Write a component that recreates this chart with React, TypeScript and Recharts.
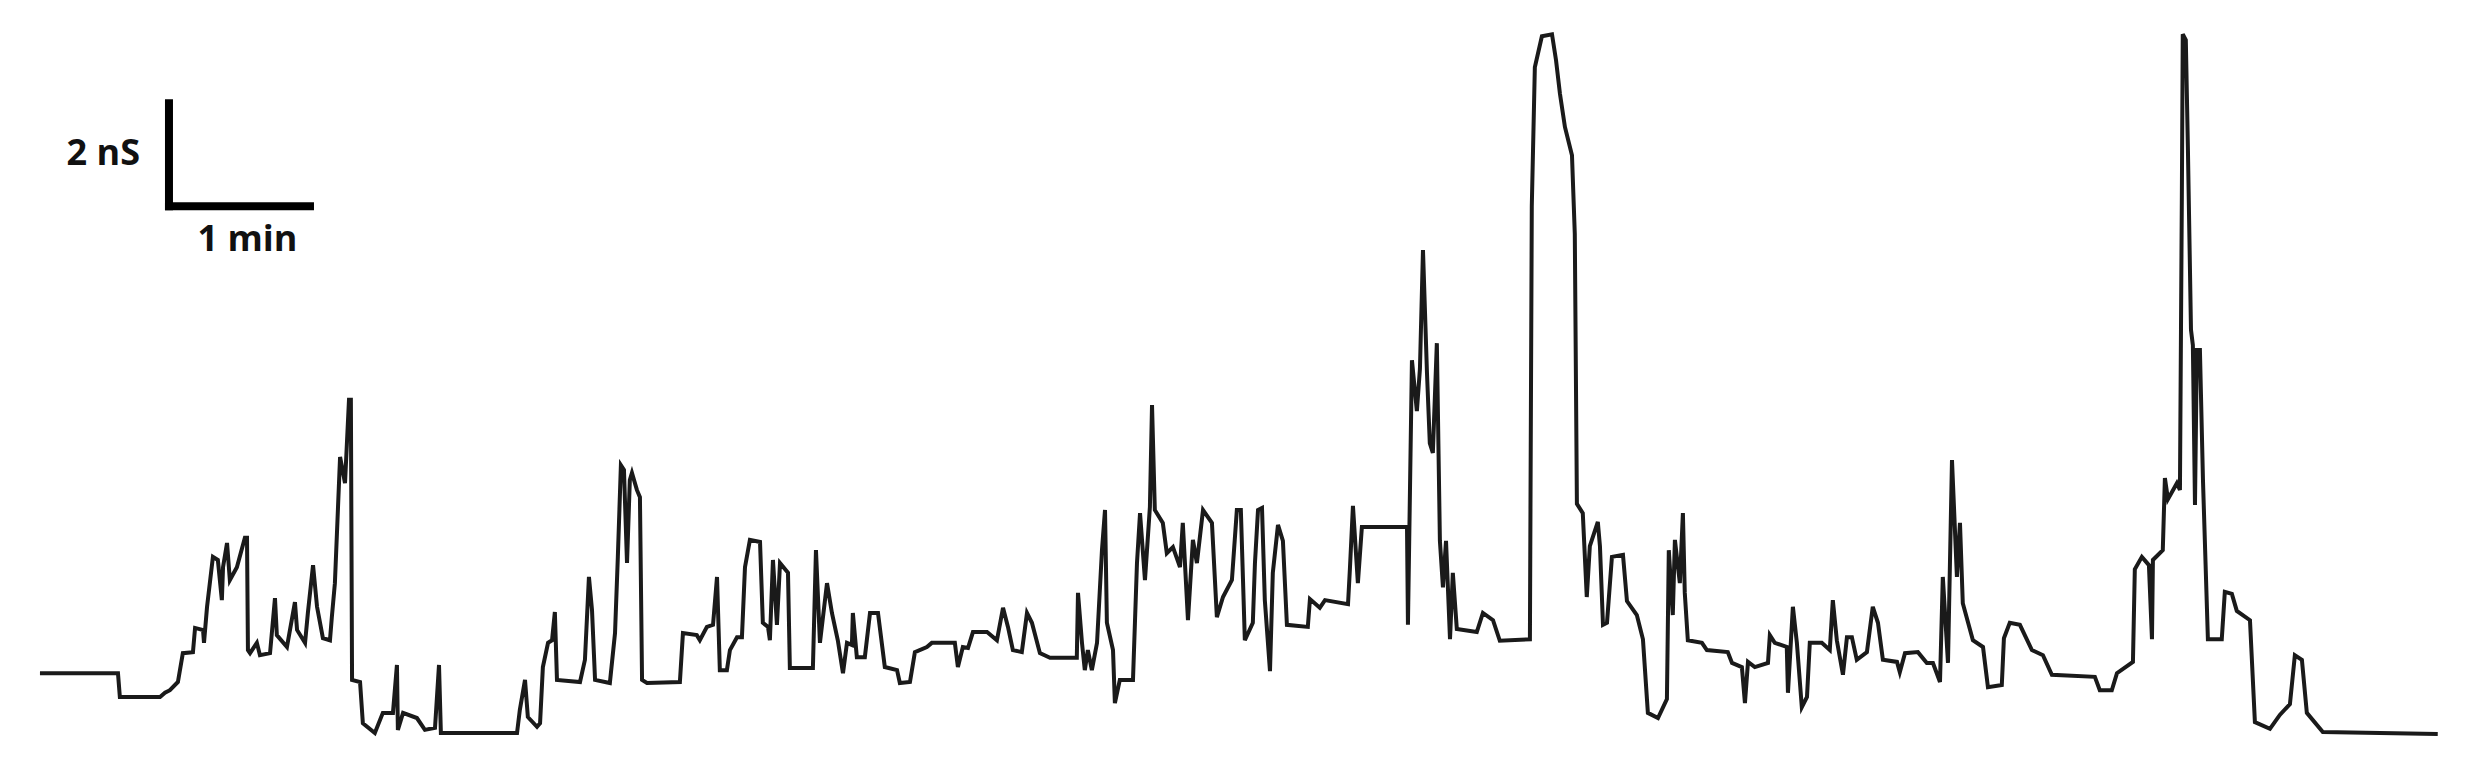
import { LineChart, Line, XAxis, YAxis, ReferenceLine } from 'recharts';

// time (s) and skin conductance (nS)
const times = [
  0, 33.2, 34.0, 51.1, 53.2, 55.3, 58.7, 60.8, 65.1, 66.0, 69.4, 69.8, 71.1, 73.6, 75.7, 77.4, 77.9, 79.6, 80.8, 83.8,
  87.2, 88.1, 88.5, 89.4, 92.3, 93.6, 97.9, 100.0, 100.8, 105.1, 108.5, 109.4, 112.8, 114.0, 116.2, 117.9, 120.4, 123.4, 124.2, 125.5,
  127.7, 129.8, 131.5, 132.3, 132.8, 136.2, 137.4, 142.5, 145.9, 150.2, 151.9, 152.3, 154.5, 160.4, 163.8, 168.1, 169.8, 170.6, 203.0, 204.2,
  206.4, 207.6, 211.5, 212.8, 214.0, 216.2, 217.9, 219.1, 220.0, 229.8, 231.9, 233.6, 234.9, 236.2, 242.5, 244.7, 245.9, 247.2, 248.5, 249.8,
  251.0, 251.9, 254.0, 255.3, 256.2, 258.3, 272.3, 273.6, 279.5, 280.8, 283.8, 286.4, 288.1, 289.3, 292.3, 293.6, 296.6, 298.7, 300.0, 302.1,
  306.4, 307.6, 309.8, 310.6, 311.9, 313.6, 314.9, 318.3, 319.1, 328.9, 330.2, 331.9, 334.9, 337.0, 339.5, 341.7, 343.4, 345.5, 345.9, 347.6,
  351.0, 353.2, 356.6, 359.5, 364.7, 365.9, 370.2, 372.3, 377.4, 379.5, 389.3, 390.6, 392.7, 394.9, 397.0, 403.0, 407.2, 409.8, 411.9, 414.0,
  417.8, 420.0, 422.1, 425.5, 429.8, 441.2, 441.7, 443.4, 444.6, 445.9, 447.6, 449.8, 451.9, 453.2, 454.0, 456.6, 457.4, 459.5, 465.1, 466.8,
  468.1, 470.2, 472.3, 473.2, 474.4, 477.8, 479.5, 482.1, 485.1, 486.3, 488.5, 490.6, 492.3, 494.9, 498.7, 500.8, 503.4, 507.2, 509.3, 511.0,
  512.7, 516.1, 517.0, 518.3, 520.0, 521.2, 523.4, 524.6, 526.8, 528.9, 530.6, 539.5, 540.4, 544.6, 546.8, 556.6, 557.4, 558.7, 560.8, 562.5,
  581.7, 582.1, 583.8, 585.9, 587.2, 588.5, 590.2, 591.4, 592.7, 594.4, 595.7, 597.0, 598.3, 600.0, 601.2, 602.9, 611.4, 614.0, 618.3, 621.2,
  634.0, 634.8, 636.1, 639.1, 643.4, 645.1, 646.8, 648.9, 651.9, 653.1, 654.0, 656.5, 658.2, 659.5, 662.9, 663.8, 665.1, 666.8, 668.9, 673.6,
  675.3, 679.5, 682.1, 684.2, 688.5, 692.3, 693.1, 694.8, 695.7, 697.8, 699.1, 699.9, 701.2, 707.2, 709.3, 718.2, 720.0, 724.2, 725.5, 726.8,
  729.7, 735.3, 736.1, 738.2, 743.3, 743.8, 745.9, 747.6, 749.7, 751.9, 753.1, 758.2, 761.6, 762.9, 764.6, 767.2, 768.9, 771.0, 773.1, 777.4,
  779.9, 782.1, 784.2, 790.2, 791.4, 793.6, 799.1, 802.9, 805.5, 808.5, 809.7, 811.9, 813.6, 815.7, 817.0, 818.2, 822.5, 826.8, 828.9, 834.8,
  835.7, 838.2, 842.5, 847.6, 852.3, 856.1, 874.4, 876.5, 881.6, 883.8, 890.6, 891.4, 894.4, 897.4, 898.7, 899.1, 903.3, 904.2, 905.5, 909.3,
  910.6, 911.4, 911.8, 913.1, 914.0, 915.3, 916.1, 917.0, 917.8, 919.1, 920.4, 922.5, 928.4, 929.7, 932.7, 934.8, 940.4, 942.5, 948.9, 953.1,
  957.4, 959.5, 962.5, 964.6, 971.4, 1020.3,
];

const conductance = [
  1.20, 1.20, 0.74, 0.74, 0.82, 0.87, 1.03, 1.59, 1.61, 2.08, 2.04, 1.79, 2.49, 3.46, 3.40, 2.62, 3.26, 3.73, 3.01, 3.26,
  3.83, 3.83, 1.65, 1.59, 1.79, 1.55, 1.59, 2.66, 1.94, 1.71, 2.58, 2.04, 1.79, 2.37, 3.30, 2.49, 1.88, 1.84, 2.29, 2.95,
  5.40, 4.89, 6.51, 6.51, 1.07, 1.03, 0.23, 0.04, 0.43, 0.43, 1.36, 0.10, 0.43, 0.33, 0.10, 0.14, 1.36, 0.04, 0.04, 0.49,
  1.07, 0.35, 0.16, 0.23, 1.32, 1.79, 1.84, 2.39, 1.07, 1.03, 1.46, 3.07, 2.43, 1.07, 1.01, 1.98, 3.46, 5.24, 5.15, 3.34,
  4.95, 5.09, 4.76, 4.62, 1.07, 1.01, 1.03, 1.98, 1.94, 1.84, 2.10, 2.14, 3.07, 1.26, 1.26, 1.65, 1.90, 1.90, 3.26, 3.79,
  3.75, 2.18, 2.10, 1.84, 3.40, 2.14, 3.34, 3.15, 1.30, 1.30, 3.59, 1.79, 2.95, 2.37, 1.84, 1.20, 1.79, 1.75, 2.37, 1.51,
  1.51, 2.37, 2.37, 1.32, 1.26, 1.01, 1.03, 1.61, 1.71, 1.79, 1.79, 1.32, 1.71, 1.69, 2.00, 2.00, 1.84, 2.47, 2.10, 1.65,
  1.61, 2.37, 2.18, 1.59, 1.50, 1.50, 2.76, 1.79, 1.26, 1.65, 1.26, 1.79, 3.59, 4.37, 2.18, 1.65, 0.62, 1.07, 1.07, 3.34,
  4.31, 3.01, 4.43, 6.41, 4.37, 4.12, 3.53, 3.65, 3.26, 4.12, 2.23, 3.79, 3.34, 4.37, 4.12, 2.29, 2.68, 3.01, 4.37, 4.37,
  1.84, 2.18, 3.34, 4.37, 4.41, 2.62, 1.24, 3.15, 4.08, 3.77, 2.14, 2.10, 2.64, 2.47, 2.62, 2.54, 3.22, 4.45, 2.95, 4.04,
  4.04, 2.14, 7.28, 6.29, 7.11, 9.42, 7.03, 5.67, 5.48, 7.61, 3.77, 2.87, 3.77, 1.86, 3.15, 2.06, 2.00, 2.37, 2.23, 1.83,
  1.86, 10.27, 12.97, 13.57, 13.61, 13.11, 12.45, 11.81, 11.26, 9.73, 4.49, 4.31, 2.68, 3.67, 4.14, 3.67, 2.14, 2.18, 3.46, 3.50,
  2.60, 2.33, 1.86, 0.43, 0.33, 0.70, 3.59, 2.33, 3.79, 2.95, 4.31, 2.76, 1.84, 1.79, 1.65, 1.61, 1.40, 1.32, 0.62, 1.42,
  1.32, 1.40, 1.94, 1.79, 1.71, 0.82, 2.49, 1.79, 0.54, 0.74, 1.79, 1.79, 1.65, 2.62, 1.84, 1.17, 1.90, 1.90, 1.46, 1.61,
  2.49, 2.18, 1.46, 1.42, 1.22, 1.59, 1.61, 1.40, 1.40, 1.03, 3.07, 1.40, 5.34, 3.07, 4.12, 2.56, 1.84, 1.71, 0.93, 0.97,
  1.88, 2.18, 2.14, 1.65, 1.55, 1.17, 1.13, 0.87, 0.87, 1.20, 1.42, 3.22, 3.46, 3.30, 1.86, 3.40, 3.59, 4.99, 4.58, 4.89,
  4.76, 10.39, 13.61, 13.50, 11.36, 7.87, 7.57, 4.47, 7.48, 7.48, 4.95, 1.86, 1.86, 2.78, 2.74, 2.41, 2.23, 0.25, 0.12, 0.39,
  0.60, 1.55, 1.46, 0.43, 0.06, 0.02,
];

// scale bar: 1 min by 2 nS
const SCALE_T0 = 54.9;
const SCALE_MIN = 60;
const SCALE_G0 = 10.27;
const SCALE_NS = 2;

const data = times.map((t, i) => ({ t, g: conductance[i] }));

const labelStyle = {
  fontFamily: '"Open Sans", sans-serif',
  fontWeight: 700,
  fontSize: 36,
  fill: '#111',
};

const nsLabel = (props: any) => {
  const vb = props.viewBox || { x: 0, y: 0, width: 0, height: 0 };
  return (
    <text
      x={vb.x - 29}
      y={vb.y + vb.height / 2 - 3}
      textAnchor="end"
      dominantBaseline="central"
      style={labelStyle}
    >
      2 nS
    </text>
  );
};

const minLabel = (props: any) => {
  const vb = props.viewBox || { x: 0, y: 0, width: 0, height: 0 };
  return (
    <text
      x={vb.x + vb.width / 2 + 8}
      y={vb.y + 45}
      textAnchor="middle"
      style={labelStyle}
    >
      1 min
    </text>
  );
};

export default function App() {
  return (
    <div style={{ width: 2461, height: 761, background: '#fff' }}>
      <LineChart
        width={2461}
        height={761}
        data={data}
        margin={{ top: 0, right: 0, left: 0, bottom: 0 }}
      >
        <XAxis dataKey="t" type="number" domain={[-13.6, 1033.6]} allowDataOverflow hide />
        <YAxis type="number" domain={[-0.66, 14.12]} allowDataOverflow hide />
        <ReferenceLine
          segment={[
            { x: SCALE_T0, y: SCALE_G0 },
            { x: SCALE_T0, y: SCALE_G0 + SCALE_NS },
          ]}
          stroke="#000"
          strokeWidth={8}
          strokeLinecap="square"
          label={nsLabel}
        />
        <ReferenceLine
          segment={[
            { x: SCALE_T0, y: SCALE_G0 },
            { x: SCALE_T0 + SCALE_MIN, y: SCALE_G0 },
          ]}
          stroke="#000"
          strokeWidth={8}
          strokeLinecap="square"
          label={minLabel}
        />
        <Line
          type="linear"
          dataKey="g"
          stroke="#1a1a1a"
          strokeWidth={4}
          dot={false}
          isAnimationActive={false}
          strokeLinejoin="miter"
        />
      </LineChart>
    </div>
  );
}
